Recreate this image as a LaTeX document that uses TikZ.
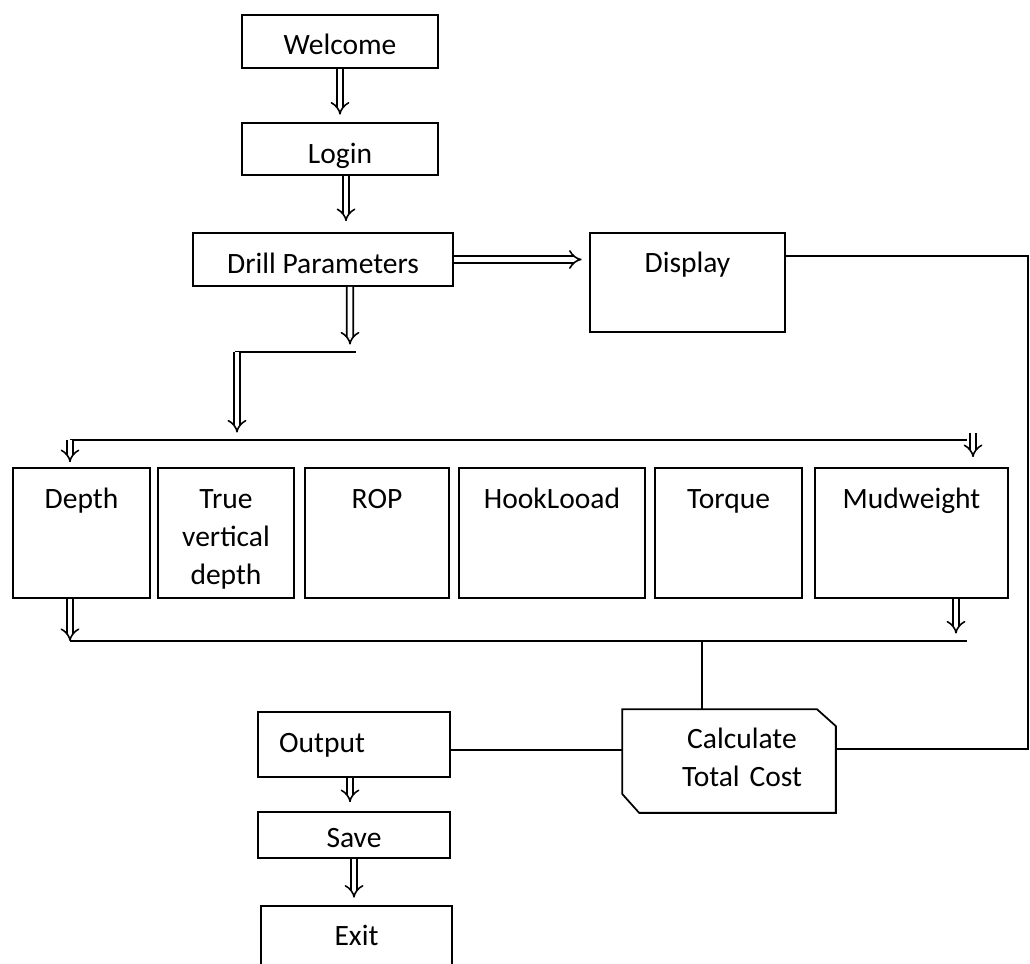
\documentclass[tikz,border=0pt]{standalone}
\usepackage{fontspec}
\setmainfont{Carlito}
\usetikzlibrary{arrows.meta}

\tikzset{
	blk/.style={draw, line width=1pt, inner sep=0pt, anchor=base, font=\fontsize{16.8}{21.8}\selectfont},
	ln/.style={line width=1pt},
	dbl/.style={double, double distance=2.8pt, line width=0.9pt, -{Implies[scale=1.25]}, shorten >=0.15cm}
}

\begin{document}
\begin{tikzpicture}[x=0.02cm, y=-0.02cm]
		%%%%% START %%%%%
		\useasboundingbox (0, 0) rectangle (1030, 963);
		
		\node[blk, minimum width=3.92cm, text height=0.8cm, text depth=0.26cm] (welcome) at (340, 55) {Welcome};
		\node[blk, minimum width=3.92cm, text height=0.8cm, text depth=0.24cm] (login) at (340, 163) {Login};
		\node[blk, minimum width=5.2cm, text height=0.8cm, text depth=0.26cm] (drill) at (323, 273) {Drill Parameters};
		\node[blk, minimum width=3.9cm, text height=0.78cm, text depth=1.2cm] (display) at (687.5, 272) {Display};
		
		\node[blk, minimum width=2.74cm, text height=0.8cm, text depth=1.8cm] (depth) at (81.5, 508) {Depth};
		\node[blk, text width=2.72cm, align=center, text height=0.8cm, text depth=1.8cm] (tvd) at (226, 508) {True\\vertical\\depth};
		\node[blk, minimum width=2.88cm, text height=0.8cm, text depth=1.8cm] (rop) at (377, 508) {ROP};
		\node[blk, minimum width=3.72cm, text height=0.8cm, text depth=1.8cm] (hook) at (552, 508) {HookLooad};
		\node[blk, minimum width=2.94cm, text height=0.8cm, text depth=1.8cm] (torque) at (728.5, 508) {Torque};
		\node[blk, minimum width=3.86cm, text height=0.8cm, text depth=1.8cm] (mud) at (911.5, 508) {Mudweight};
		
		\node[blk, draw=none, text width=4.24cm, align=center, text height=0.76cm, text depth=1.28cm] (calc) at (729, 748) {\hspace*{0.52cm}Calculate\\\hspace*{0.52cm}Total Cost};
		\draw[ln] (calc.north west) -- ([xshift=-0.38cm]calc.north east) -- ([yshift=-0.34cm]calc.north east) -- (calc.south east) -- ([xshift=0.34cm]calc.south west) -- ([yshift=0.38cm]calc.south west) -- cycle;
		
		\node[blk, minimum width=3.84cm, text height=0.8cm, text depth=0.5cm] (output) at (354, 752) {Output\hspace*{1.28cm}};
		\node[blk, minimum width=3.84cm, text height=0.7cm, text depth=0.22cm] (save) at (354, 847) {Save};
		\node[blk, minimum width=3.82cm, text height=0.78cm, text depth=1.2cm] (exit) at (356.5, 945) {Exit};
		
		% junctions
		\coordinate (fork) at (350, 352);
		\coordinate (forkL) at (237, 352);
		\coordinate (busL) at (70, 440);
		\coordinate (busR) at (967, 440);
		\coordinate (busRa) at (973, 433);
		\coordinate (sinkL) at (70, 641);
		\coordinate (sinkR) at (967, 641);
		\coordinate (sink) at (702, 641);
		\coordinate (loopT) at (1028, 256);
		
		\draw[dbl] (welcome) -- (login);
		\draw[dbl, shorten >=0.22cm] ([xshift=0.12cm]login.south) -- ([xshift=0.12cm]login.south |- drill.north);
		\draw[dbl] (drill.east) -- (drill.east -| display.west);
		\draw[dbl] ([xshift=0.54cm]drill.south) -- (fork);
		\draw[ln] ([xshift=-0.04cm]forkL) -- ([xshift=0.12cm]fork);
		\draw[dbl] (forkL) -- (forkL |- busL);
		\draw[ln] (busL) -- (busR);
		\draw[dbl, shorten >=0.1cm] (busL) -- (busL |- depth.north);
		\draw[dbl, shorten >=0.2cm] (busRa) -- (busRa |- mud.north);
		
		\draw[dbl, shorten >=0pt] (depth.south -| sinkL) -- (sinkL);
		\draw[dbl] ([xshift=0.89cm]mud.south) -- ([xshift=0.89cm]mud.south |- sinkR);
		\draw[ln] (sinkL) -- (sinkR);
		\draw[ln] (sink) -- (sink |- calc.north);
		
		\draw[ln] ([yshift=0.22cm]calc.west) -- ([yshift=0.22cm]calc.west -| output.east);
		\draw[ln] ([yshift=0.24cm]calc.east) -| (loopT) -- (loopT -| display.east);
		
		\draw[dbl, shorten >=0.18cm] ([xshift=-0.08cm]output.south) -- ([xshift=-0.08cm]output.south |- save.north);
		\draw[dbl] (save.south) -- (save.south |- exit.north);
		%%%%% END %%%%%
	\end{tikzpicture}
\end{document}
